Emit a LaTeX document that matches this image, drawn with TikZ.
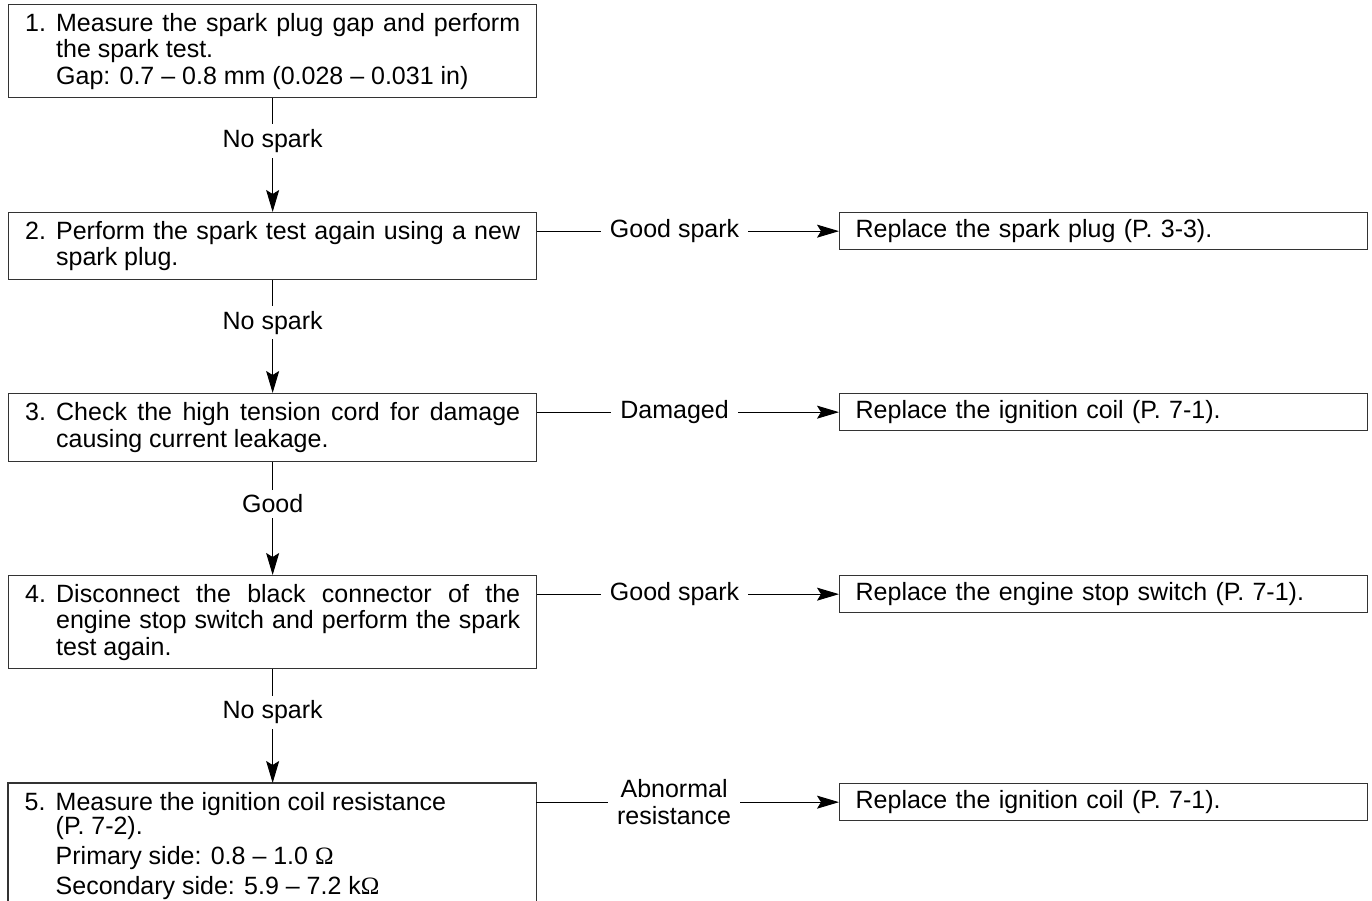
\documentclass[tikz,border=0pt]{standalone}
\usepackage{fontspec}
\setmainfont{Liberation Sans}
\newfontfamily\omfont{Liberation Serif}
\usetikzlibrary{arrows.meta}
\newcommand{\stepnum}[1]{\hangindent=31pt\hangafter=1\noindent\makebox[31pt][l]{#1}}
\newcommand{\om}{{\omfont Ω}}
\begin{document}
\begin{tikzpicture}[x=1pt,y=-1pt,
  every node/.style={font=\fontsize{25}{26.5}\selectfont},
  box/.style={draw=black!80, line width=1.3pt, anchor=north west, inner xsep=16pt, inner ysep=0pt, minimum width=528pt},
  rbox/.style={draw=black!80, line width=1.3pt, anchor=north west, text width=496pt, inner xsep=16pt, inner ysep=0pt, minimum height=37pt, align=left},
  boxline/.style={draw=black!80, line width=1.3pt},
  conn/.style={line width=1pt, -{Stealth[length=22pt,width=13pt,inset=4pt]}},
  lab/.style={fill=white, inner xsep=9pt, inner ysep=5pt}
]
\useasboundingbox (0,0) rectangle (1372,900);
\clip (0,0) rectangle (1372,900);

% left column
\node[box, minimum height=93pt] (b1) at (8,4) {\parbox{495pt}{\stepnum{1.}Measure the spark plug gap and perform\linebreak the spark test.\newline Gap: 0.7 – 0.8 mm (0.028 – 0.031 in)}};
\node[box, minimum height=67pt] (b2) at (8,212) {\parbox{495pt}{\stepnum{2.}Perform the spark test again using a new\linebreak spark plug.}};
\node[box, minimum height=68pt] (b3) at (8,393) {\parbox{495pt}{\stepnum{3.}Check the high tension cord for damage\linebreak causing current leakage.}};
\node[box, minimum height=93pt] (b4) at (8,575) {\parbox{495pt}{\stepnum{4.}Disconnect the black connector of the\linebreak engine stop switch and perform the spark\linebreak test again.}};
\node[anchor=north west, inner xsep=16.5pt, inner ysep=9pt] (b5) at (8,783) {\parbox[t]{495pt}{\stepnum{5.}Measure the ignition coil resistance\\[-2pt](P. 7-2).\\[3pt]Primary side: 0.8 – 1.0 \om\\[3.5pt]Secondary side: 5.9 – 7.2 k\om}};
\draw[boxline] (b5.north west |- 0,930) -- (b5.north west) -- (b5.north east) -- (b5.north east |- 0,930);

% right column
\node[rbox] (r1) at (839,212) {Replace the spark plug (P. 3-3).};
\node[rbox] (r2) at (839,393) {Replace the ignition coil (P. 7-1).};
\node[rbox] (r3) at (839,575) {Replace the engine stop switch (P. 7-1).};
\node[rbox] (r4) at (839,783) {Replace the ignition coil (P. 7-1).};

% vertical connectors
\draw[conn] (b1.south) -- node[lab, pos=0.375] {No spark} (b2.north);
\draw[conn] (b2.south) -- node[lab, pos=0.375] {No spark} (b3.north);
\draw[conn] (b3.south) -- node[lab, pos=0.37] {Good} (b4.north);
\draw[conn] (b4.south) -- node[lab, pos=0.38] {No spark} (b4.south |- b5.north);

% horizontal connectors
\draw[conn] (b2.east |- r1.west) -- node[lab, pos=0.455] {Good spark} (r1.west);
\draw[conn] (b3.east |- r2.west) -- node[lab, pos=0.455] {Damaged} (r2.west);
\draw[conn] (b4.east |- r3.west) -- node[lab, pos=0.455] {Good spark} (r3.west);
\draw[conn] (b5.east |- r4.west) -- node[lab, pos=0.455, align=center] {Abnormal\\resistance} (r4.west);
\end{tikzpicture}
\end{document}
